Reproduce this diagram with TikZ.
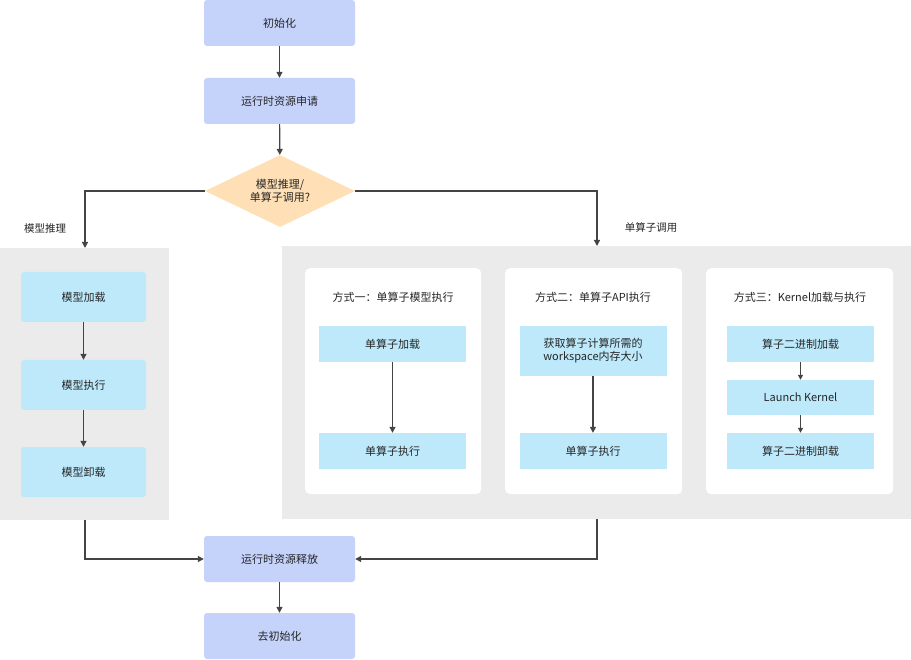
\documentclass[tikz,border=0pt]{standalone}
\usepackage{fontspec}
\setmainfont{Noto Sans CJK SC}
\usetikzlibrary{shapes.geometric,arrows.meta}
\definecolor{bluebox}{HTML}{C5D3FB}
\definecolor{cyanbox}{HTML}{BDE9FB}
\definecolor{panel}{HTML}{EBEBEB}
\definecolor{dia}{HTML}{FFE0B6}
\definecolor{ln}{HTML}{444444}
\begin{document}
\begin{tikzpicture}[x=1pt,y=-1pt,
  main/.style={fill=bluebox,rounded corners=3pt,minimum width=151pt,minimum height=46pt,font=\fontsize{11}{13}\selectfont,text=black!85},
  mstep/.style={fill=cyanbox,rounded corners=3pt,minimum width=125pt,minimum height=50pt,font=\fontsize{11}{13}\selectfont,text=black!85},
  op/.style={fill=cyanbox,minimum width=147pt,minimum height=36pt,font=\fontsize{11}{13}\selectfont,text=black!85,align=center,inner sep=1pt},
  card/.style={fill=white,rounded corners=5pt,minimum height=226pt,anchor=north west},
  ttl/.style={font=\fontsize{11}{13}\selectfont,text=black!85},
  arr/.style={draw=ln,line width=1.2pt,-{Triangle[length=6pt,width=6pt]}},
  lbl/.style={font=\fontsize{10.5}{13}\selectfont,text=black!85}]
\useasboundingbox (0,0) rectangle (911,660);
\fill[panel] (0,248) rectangle (169,520);
\fill[panel] (282,246) rectangle (911,519);
\node[card,minimum width=176pt] (c1) at (305,268) {};
\node[card,minimum width=177pt] (c2) at (505,268) {};
\node[card,minimum width=187pt] (c3) at (706,268) {};
\node[main] (init) at (279.5,23) {初始化};
\node[main] (req) at (279.5,101) {运行时资源申请};
\node[diamond,fill=dia,minimum width=150pt,minimum height=72pt,inner sep=0pt,aspect=2.1,align=center,font=\fontsize{11}{13}\selectfont,text=black!85] (d) at (280,191) {模型推理/\\单算子调用?};
\node[mstep] (m1) at (83.5,297) {模型加载};
\node[mstep] (m2) at (83.5,385) {模型执行};
\node[mstep] (m3) at (83.5,472) {模型卸载};
\node[ttl] (t1) at (393,297) {方式一：单算子模型执行};
\node[ttl] (t2) at (593,297) {方式二：单算子API执行};
\node[ttl] (t3) at (800,297) {方式三：Kernel加载与执行};
\node[op] (a1) at (392.5,344) {单算子加载};
\node[op] (a2) at (392.5,451) {单算子执行};
\node[op,minimum height=50pt] (b1) at (593,351) {获取算子计算所需的\\workspace内存大小};
\node[op] (b2) at (593,451) {单算子执行};
\node[op] (k1) at (800.5,344) {算子二进制加载};
\node[op,minimum height=35pt] (k2) at (800.5,397.5) {Launch Kernel};
\node[op] (k3) at (800.5,451) {算子二进制卸载};
\node[main] (rel) at (279.5,559) {运行时资源释放};
\node[main] (deinit) at (279.5,636) {去初始化};
\coordinate (lt) at (85,248);
\coordinate (rt) at (597,246);
\coordinate (lb) at (85,520);
\coordinate (rb) at (597,519);
\node[lbl] at (45,229) {模型推理};
\node[lbl] at (651,228) {单算子调用};
\draw[arr] (init) -- (req);
\draw[arr] (req) -- (d);
\draw[arr] (d.west) -| (lt);
\draw[arr] (d.east) -| (rt);
\draw[arr] (m1) -- (m2);
\draw[arr] (m2) -- (m3);
\draw[arr] (a1) -- (a2);
\draw[arr] (b1) -- (b2);
\draw[draw=ln,line width=1.2pt,-{Triangle[length=5pt,width=5pt]}] (k1) -- (k2);
\draw[draw=ln,line width=1.2pt,-{Triangle[length=5pt,width=5pt]}] (k2) -- (k3);
\draw[arr] (lb) |- (rel.west);
\draw[arr] (rb) |- (rel.east);
\draw[arr] (rel) -- (deinit);
\end{tikzpicture}
\end{document}
